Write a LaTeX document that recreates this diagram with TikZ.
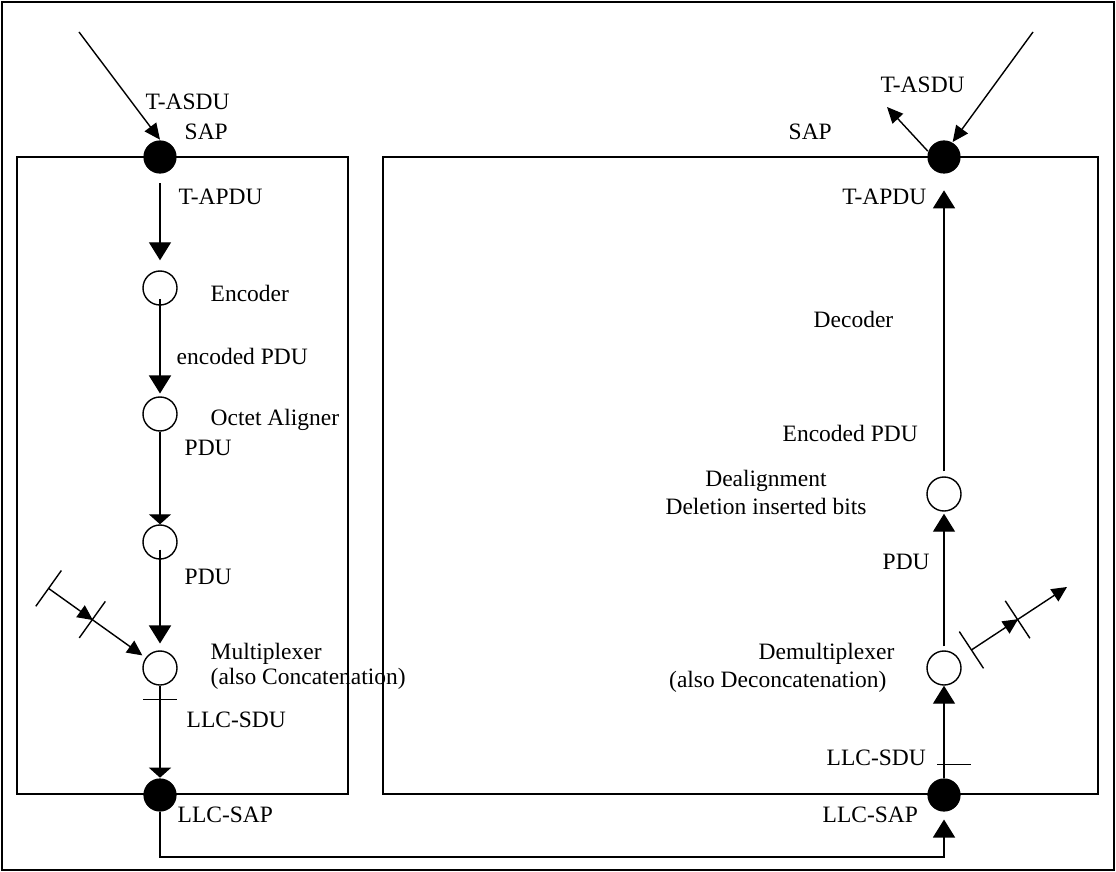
\documentclass[tikz,border=0pt]{standalone}
\usepackage{fontspec}
\setmainfont{Liberation Serif}
\usetikzlibrary{arrows.meta,calc,decorations.markings}

\begin{document}
\begin{tikzpicture}[x=0.025cm, y=-0.025cm, line width=1pt,
  lbl/.style={font=\fontsize{16.7}{17.8}\selectfont, inner sep=0pt, align=left},
  sap/.style={circle, fill=black, minimum size=0.83cm, inner sep=0pt},
  fn/.style={circle, draw, fill=white, minimum size=0.85cm, inner sep=0pt},
  box/.style={draw, line width=1.2pt},
  arr/.style={-{Triangle[length=0.45cm, width=0.55cm]}},
  flat/.style={-{Triangle[length=0.25cm, width=0.55cm]}},
  darr/.style={-{Triangle[length=0.4cm, width=0.36cm]}},
  branch/.style={arrows={Bar[width=1.1cm]-Triangle[length=0.38cm, width=0.36cm]},
    postaction={decorate, decoration={markings,
      mark=at position #1 with {\arrow{Triangle[length=0.38cm, width=0.36cm]}\arrow{Bar[width=1.12cm]}}}}}]
\useasboundingbox (0,0) rectangle (1116,872);
% frames
\draw[line width=0.9pt] (2,2) rectangle (1114,870);
\draw[box] (17,157) rectangle (348,794);
\draw[box] (383,157) rectangle (1098,794);

% sending entity
\node[sap] (sapL) at (160,157) {};
\node[fn] (enc) at (160,288) {};
\node[fn] (oct) at (160,414) {};
\node[fn] (pad) at (160,542) {};
\node[fn] (mux) at (160,668) {};
\node[sap] (llcL) at (160,795) {};
% receiving entity
\node[sap] (sapR) at (944,157) {};
\node[fn] (deal) at (944,494) {};
\node[fn] (dmx) at (944,668) {};
\node[sap] (llcR) at (944,795) {};

\coordinate (inL) at (79,32);
\coordinate (inR) at (1033,32);
\coordinate (outR) at (887,107);
\coordinate (mxin) at (48,588);
\coordinate (dmxout) at (1067,587);

% left flow
\draw[darr] (inL) -- (sapL.north);
\draw[arr, shorten <=0.22cm, shorten >=0.25cm] (sapL) -- (enc);
\draw[arr, shorten <=-0.17cm, shorten >=0.07cm] (enc) -- (oct);
\draw[flat] (oct) -- (pad);
\draw[arr, shorten <=-0.25cm, shorten >=0.17cm] (pad) -- (mux);
\draw[flat] (mux) -- (llcL);
\draw[branch=0.46, shorten >=0.1cm] (mxin) -- (mux);
\draw ($(mux.south)+(-17,14)$) -- ++(34,0);
\draw[arr, shorten >=0.18cm] (llcL) -- ++(0,62) -| (llcR);

% right flow
\draw[darr] (inR) -- (sapR.60);
\draw[darr] (sapR.160) -- (outR);
\draw[arr] (llcR) -- (dmx);
\draw[arr, shorten <=0.1cm, shorten >=0.05cm] (dmx) -- (deal);
\draw[arr, shorten <=0.12cm, shorten >=0.4cm] (deal) -- (sapR);
\draw ($(llcR.north)+(-7,-13)$) -- ++(34,0);
\draw[branch=0.55, shorten <=0.36cm] (dmx) -- (dmxout);

% labels, left
\node[lbl, anchor=west] (lTasdu) at (145,102) {T-ASDU};
\node[lbl, anchor=west] (lSap) at (184,132) {SAP};
\node[lbl, anchor=west] (lTapdu) at (178,197) {T-APDU};
\node[lbl, anchor=west] (lEnc) at (210,293) {Encoder};
\node[lbl, anchor=west] (lEpdu) at (176,356) {encoded PDU};
\node[lbl, anchor=west] (lOct) at (210,420) {Octet Aligner};
\node[lbl, anchor=west] (lPdu1) at (184,448) {PDU};
\node[lbl, anchor=west] (lPdu2) at (184,577) {PDU};
\node[lbl, anchor=west] (lMux) at (210,666) {Multiplexer\\(also Concatenation)};
\node[lbl, anchor=west] (lSdu) at (186,720) {LLC-SDU};
\node[lbl, anchor=west] (lLsap) at (177,815) {LLC-SAP};
% labels, right
\node[lbl, anchor=west] (rTasdu) at (880,85) {T-ASDU};
\node[lbl, anchor=west] (rSap) at (788,132) {SAP};
\node[lbl, anchor=east] (rTapdu) at (927,197) {T-APDU};
\node[lbl, anchor=west] (rDec) at (813,319) {Decoder};
\node[lbl, anchor=west] (rEpdu) at (782,433) {Encoded PDU};
\node[lbl, align=center, font=\fontsize{16.7}{19.9}\selectfont] (rDeal) at (766,492) {Dealignment\\Deletion inserted bits};
\node[lbl, anchor=west] (rPdu) at (882,562) {PDU};
\node[lbl, anchor=east] (rDmx) at (895,654) {Demultiplexer};
\node[lbl, anchor=east] (rDmx2) at (887,682) {(also Deconcatenation)};
\node[lbl, anchor=west] (rSdu) at (826,758) {LLC-SDU};
\node[lbl, anchor=west] (rLsap) at (822,815) {LLC-SAP};
\end{tikzpicture}
\end{document}
